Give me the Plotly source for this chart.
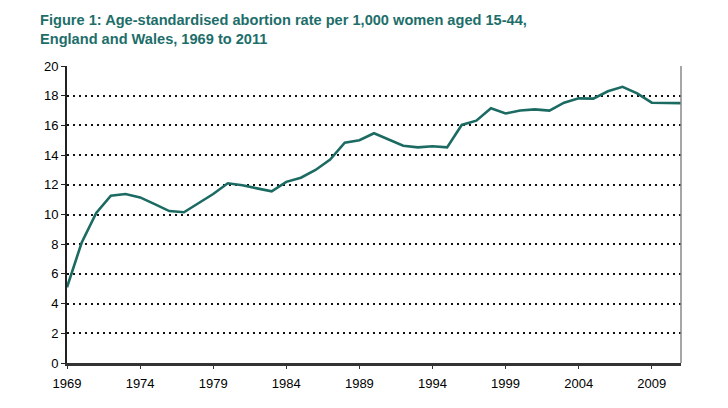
import plotly.graph_objects as go

years = list(range(1969, 2012))
rates = [5.1, 8.1, 10.1, 11.27, 11.38, 11.15, 10.7, 10.23, 10.15, 10.75,
         11.38, 12.1, 11.97, 11.76, 11.56, 12.2, 12.48, 13.0, 13.7, 14.84,
         15.0, 15.47, 15.06, 14.63, 14.52, 14.6, 14.52, 16.03, 16.32, 17.15,
         16.8, 17.0, 17.08, 17.0, 17.53, 17.82, 17.8, 18.3, 18.6, 18.16,
         17.53, 17.5, 17.5]
x_ticks = [1969, 1974, 1979, 1984, 1989, 1994, 1999, 2004, 2009]
y_ticks = list(range(0, 21, 2))
title_text = ("Figure 1: Age-standardised abortion rate per 1,000 women aged 15-44,"
              "<br>England and Wales, 1969 to 2011")

fig = go.Figure()
fig.add_trace(go.Scatter(x=years, y=rates, mode="lines",
                         line=dict(color="#1c6b63", width=2.6),
                         showlegend=False))

fig.update_layout(
    width=720, height=400,
    margin=dict(l=59, r=47, t=58, b=45),
    paper_bgcolor="white", plot_bgcolor="white",
    font=dict(family="Arial, Liberation Sans, sans-serif", size=13, color="black"),
    title=dict(text=title_text, x=32/720, xanchor="left", xref="container",
               y=1 - 17/400, yanchor="top", yref="container",
               font=dict(family="Arial, Liberation Sans, sans-serif", size=14.6,
                         color="#1d6e6a", weight="bold")),
    xaxis=dict(range=[1969, 2011], tickvals=x_ticks, ticks="outside", ticklen=3,
               tickwidth=1, tickcolor="#333", showgrid=False, zeroline=False,
               showline=True, linecolor="#333", linewidth=2.5,
               ticklabelstandoff=4,
               tickfont=dict(size=13, color="black")),
    yaxis=dict(range=[0, 20], tickvals=y_ticks, ticks="outside", ticklen=4,
               tickwidth=1, tickcolor="#222", showgrid=True, gridcolor="#111",
               griddash="2px,4px", gridwidth=1.5, zeroline=False, showline=True,
               linecolor="#222", linewidth=2, tickfont=dict(size=13, color="black")),
    shapes=[dict(type="line", xref="paper", yref="paper", x0=1, x1=1, y0=0, y1=1,
                 line=dict(color="#888", width=1.5))],
)

fig.write_html("out.html")
